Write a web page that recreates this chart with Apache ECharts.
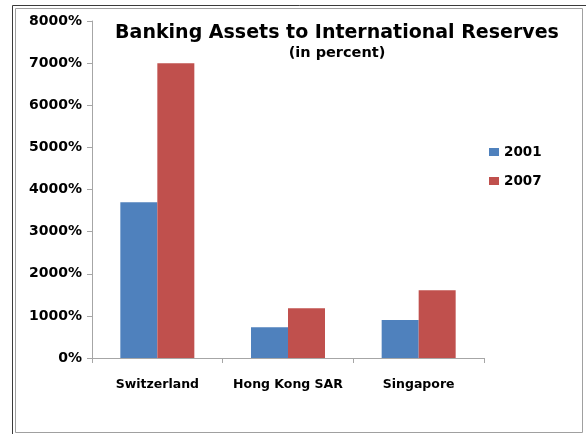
<!DOCTYPE html>
<html><head><meta charset="utf-8">
<script src="https://cdn.jsdelivr.net/npm/echarts@6/dist/echarts.min.js"></script>
<style>html,body{margin:0;padding:0;background:#fff}#c{width:586px;height:434px}</style>
</head><body><div id="c"></div>
<script>
const categories = ['Switzerland', 'Hong Kong SAR', 'Singapore'];
const seriesNames = ['2001', '2007'];
const values2001 = [3700, 730, 900];
const values2007 = [7000, 1180, 1610];
const colors = ['#4F81BD', '#C0504D'];
const chart = echarts.init(document.getElementById('c'), null, {renderer: 'canvas'});
const font = 'DejaVu Sans, sans-serif';
chart.setOption({
  animation: false,
  backgroundColor: '#fff',
  graphic: [
    {type: 'polyline', shape: {points: [[12.5, 434], [12.5, 5.5], [586, 5.5]]}, style: {fill: 'none', stroke: '#3a3a3a', lineWidth: 1}, z: -1},
    {type: 'rect', shape: {x: 15.5, y: 8.5, width: 567, height: 424}, style: {fill: 'none', stroke: '#a0a0a0', lineWidth: 1}, z: -1}
  ],
  title: {
    text: 'Banking Assets to International Reserves',
    subtext: '(in percent)',
    left: 332, textAlign: 'center', top: 19, itemGap: 3,
    textStyle: {fontFamily: font, fontWeight: 'bold', fontSize: 19, color: '#000'},
    subtextStyle: {fontFamily: font, fontWeight: 'bold', fontSize: 14.5, color: '#000'}
  },
  legend: {
    orient: 'vertical', left: 484, top: 140, itemGap: 15,
    itemWidth: 10, itemHeight: 8, icon: 'rect',
    textStyle: {fontFamily: font, fontWeight: 'bold', fontSize: 13.5, color: '#000'},
    data: seriesNames
  },
  grid: {left: 92, right: 102, top: 21, bottom: 76, containLabel: false},
  xAxis: {
    type: 'category', data: categories,
    axisLine: {lineStyle: {color: '#a6a6a6'}},
    axisTick: {show: true, length: 5, lineStyle: {color: '#a6a6a6'}},
    axisLabel: {interval: 0, fontFamily: font, fontWeight: 'bold', fontSize: 12.5, color: '#000', margin: 20}
  },
  yAxis: {
    type: 'value', min: 0, max: 8000, interval: 1000,
    axisLine: {show: true, lineStyle: {color: '#a6a6a6'}},
    axisTick: {show: true, length: 5, lineStyle: {color: '#a6a6a6'}},
    splitLine: {show: false},
    axisLabel: {fontFamily: font, fontWeight: 'bold', fontSize: 14, color: '#000', margin: 10, formatter: v => v + '%'}
  },
  series: [
    {name: seriesNames[0], type: 'bar', data: values2001, barWidth: 37, barGap: '0%', itemStyle: {color: colors[0]}},
    {name: seriesNames[1], type: 'bar', data: values2007, barWidth: 37, barGap: '0%', itemStyle: {color: colors[1]}}
  ]
});
</script></body></html>
